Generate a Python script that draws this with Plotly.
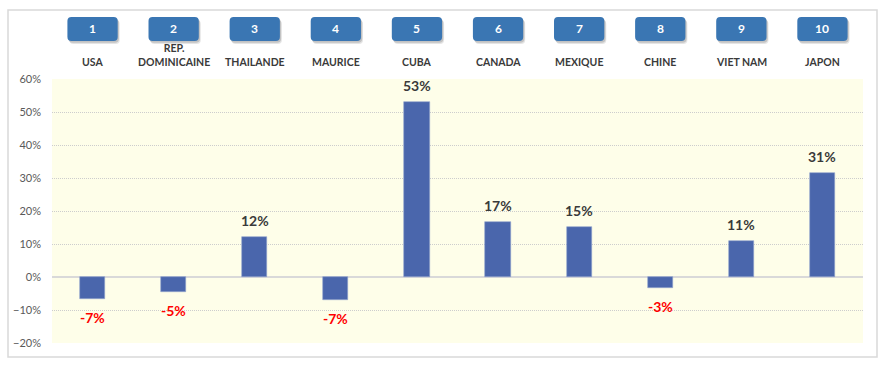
import plotly.graph_objects as go

categories = ["USA", "REP.<br>DOMINICAINE", "THAILANDE", "MAURICE", "CUBA",
              "CANADA", "MEXIQUE", "CHINE", "VIET NAM", "JAPON"]
ranks = ["1", "2", "3", "4", "5", "6", "7", "8", "9", "10"]
values = [-0.067, -0.045, 0.121, -0.070, 0.529, 0.167, 0.152, -0.033, 0.109, 0.315]
label_text = ["-7%", "-5%", "12%", "-7%", "53%", "17%", "15%", "-3%", "11%", "31%"]

W, H = 887, 373
ML, MR, MT, MB = 52, 24, 79, 30
PW = W - ML - MR
PH = H - MT - MB

x = list(range(len(categories)))
FONT = "Lato"
BAR = "#4a66ac"
BOX = "#3a76b3"

fig = go.Figure()
fig.add_trace(go.Bar(
    x=x, y=values, width=0.31,
    marker=dict(color=BAR, line=dict(color="#8fa3cf", width=0.6)),
    hoverinfo="skip",
))

def px_to_py(py):
    return (H - MB - py) / PH

def px_to_px(pxl):
    return (pxl - ML) / PW

shapes = []
annotations = []
ux = PW / len(categories)
rx = 4 / ux
ry = 4 / PH
bw = 0.31
y_top = px_to_py(17)
y_bot = px_to_py(41)

def rrect(x0, x1, y0, y1):
    return (f"M {x0+rx},{y0} L {x1-rx},{y0} Q {x1},{y0} {x1},{y0+ry} "
            f"L {x1},{y1-ry} Q {x1},{y1} {x1-rx},{y1} L {x0+rx},{y1} "
            f"Q {x0},{y1} {x0},{y1-ry} L {x0},{y0+ry} Q {x0},{y0} {x0+rx},{y0} Z")

sdx = 2 / ux
sdy = 3 / PH
for i, (cat, rk, v, t) in enumerate(zip(categories, ranks, values, label_text)):
    # shadow
    for k, a in [(1.0, 0.10), (0.6, 0.15)]:
        shapes.append(dict(type="path", xref="x", yref="paper",
                           path=rrect(i - bw + sdx * k, i + bw + sdx * k, y_bot - sdy * k, y_top - sdy * k),
                           fillcolor=f"rgba(0,0,0,{a})", line=dict(width=0), layer="above"))
    shapes.append(dict(type="path", xref="x", yref="paper",
                       path=rrect(i - bw, i + bw, y_bot, y_top),
                       fillcolor=BOX, line=dict(width=0), layer="above"))
    annotations.append(dict(x=i, y=(y_top + y_bot) / 2, xref="x", yref="paper",
                            text=f"<b>{rk}</b>", showarrow=False,
                            font=dict(family=FONT, size=12, color="white"),
                            xanchor="center", yanchor="middle"))
    annotations.append(dict(x=i, y=px_to_py(70), xref="x", yref="paper",
                            text=f"<b>{cat}</b>", showarrow=False,
                            font=dict(family=FONT, size=10.5, color="#3a3a3a"),
                            xanchor="center", yanchor="bottom"))
    pos = v >= 0
    annotations.append(dict(x=i, y=v, xref="x", yref="y",
                            text=f"<b>{t}</b>", showarrow=False,
                            font=dict(family=FONT, size=14,
                                      color="#3a3a3a" if pos else "#ff0000"),
                            xanchor="center",
                            yanchor="bottom" if pos else "top",
                            yshift=6 if pos else -8))

# outer frame
shapes.append(dict(type="rect", xref="paper", yref="paper",
                   x0=px_to_px(8), x1=px_to_px(877), y0=px_to_py(357), y1=px_to_py(10),
                   line=dict(color="#d9d9d9", width=1.5), fillcolor="rgba(0,0,0,0)",
                   layer="below"))

fig.update_layout(
    width=W, height=H,
    margin=dict(l=ML, r=MR, t=MT, b=MB),
    paper_bgcolor="white",
    plot_bgcolor="#fefee9",
    showlegend=False,
    bargap=0,
    shapes=shapes,
    annotations=annotations,
    xaxis=dict(range=[-0.5, len(categories) - 0.5], showticklabels=False,
               showgrid=False, zeroline=False, fixedrange=True),
    yaxis=dict(range=[-0.2, 0.6], dtick=0.1, tickformat=".0%",
               showgrid=True, gridcolor="#cdcdcd", griddash="1px,1px", gridwidth=1,
               zeroline=True, zerolinecolor="#d9d9d9", zerolinewidth=2,
               ticks="", ticklabelstandoff=10,
               tickfont=dict(family=FONT, size=11, color="#595959")),
)

fig.write_html("out.html", config={"displayModeBar": False},
               post_script="document.body.style.margin='0';")
